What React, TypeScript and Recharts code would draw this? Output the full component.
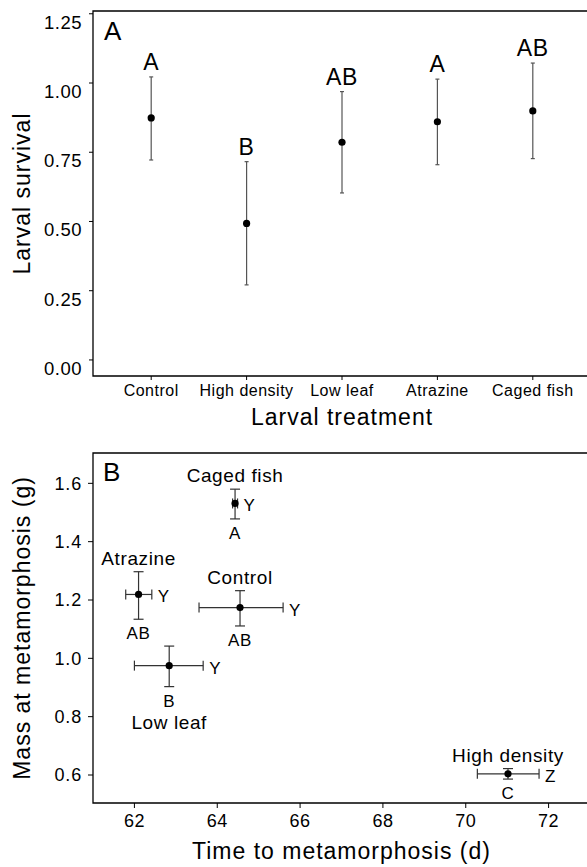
import { ScatterChart, Scatter, XAxis, YAxis, ErrorBar, ReferenceArea } from "recharts";

const FONT = '"Liberation Sans", Arial, Helvetica, sans-serif';

// Panel A: larval survival by treatment
const treatments = ["Control", "High density", "Low leaf", "Atrazine", "Caged fish"];
const survivalMean = [0.874, 0.493, 0.786, 0.86, 0.899];
const survivalLower = [0.722, 0.271, 0.603, 0.705, 0.727];
const survivalUpper = [1.022, 0.716, 0.969, 1.014, 1.072];
const survivalLetters = ["A", "B", "AB", "A", "AB"];
const survivalTicks = [0, 0.25, 0.5, 0.75, 1, 1.25];

// Panel B: time vs mass at metamorphosis
const groups = ["Control", "High density", "Low leaf", "Atrazine", "Caged fish"];
const timeMean = [64.55, 71.02, 62.84, 62.1, 64.43];
const timeLower = [63.56, 70.28, 62.0, 61.79, 64.37];
const timeUpper = [65.59, 71.77, 63.66, 62.42, 64.49];
const massMean = [1.174, 0.604, 0.975, 1.219, 1.531];
const massLower = [1.111, 0.586, 0.903, 1.134, 1.478];
const massUpper = [1.232, 0.622, 1.042, 1.297, 1.58];
const massLetters = ["AB", "C", "B", "AB", "A"];
const timeLetters = ["Y", "Z", "Y", "Y", "Y"];
const massTicks = [0.6, 0.8, 1.0, 1.2, 1.4, 1.6];
const timeTicks = [62, 64, 66, 68, 70, 72];

const survivalData = treatments.map((name, i) => ({
  name,
  x: i + 1,
  y: survivalMean[i],
  err: [survivalMean[i] - survivalLower[i], survivalUpper[i] - survivalMean[i]],
}));
const survivalLetterData = treatments.map((name, i) => ({
  name,
  x: i + 1,
  y: survivalUpper[i],
  label: survivalLetters[i],
}));

const metaData = groups.map((name, i) => ({
  name,
  x: timeMean[i],
  y: massMean[i],
  errX: [timeMean[i] - timeLower[i], timeUpper[i] - timeMean[i]],
  errY: [massMean[i] - massLower[i], massUpper[i] - massMean[i]],
}));
const nameAbove = groups
  .map((name, i) => ({ x: timeMean[i], y: massUpper[i], label: name }))
  .filter((d) => d.label !== "Low leaf");
const nameBelow = groups
  .map((name, i) => ({ x: timeMean[i], y: massLower[i], label: name }))
  .filter((d) => d.label === "Low leaf");
const massLetterData = groups.map((name, i) => ({ x: timeMean[i], y: massLower[i], label: massLetters[i] }));
const timeLetterData = groups.map((name, i) => ({ x: timeUpper[i], y: massMean[i], label: timeLetters[i] }));

const Dot = (p: any) => <circle cx={p.cx} cy={p.cy} r={3.6} fill="#000" />;

const textShape = (dx: number, dy: number, size: number, anchor: string) => (p: any) => (
  <text
    x={p.cx + dx}
    y={p.cy + dy}
    textAnchor={anchor}
    fontSize={size}
    fontFamily={FONT}
    letterSpacing={0.6}
    fill="#000"
  >
    {p.payload.label}
  </text>
);

const yTitle = (text: string) => (props: any) => {
  const vb = props.viewBox;
  const cy = vb.y + vb.height / 2;
  return (
    <text
      x={22}
      y={cy}
      dy="0.36em"
      transform={`rotate(-90, 22, ${cy})`}
      textAnchor="middle"
      fontSize={23}
      fontFamily={FONT}
      letterSpacing={1}
      fill="#000"
    >
      {text}
    </text>
  );
};

const SurvivalTick = (p: any) => (
  <text x={p.x} y={p.y + 15} textAnchor="end" fontSize={18.5} fontFamily={FONT} letterSpacing={0.5} fill="#000">
    {Number(p.payload.value).toFixed(2)}
  </text>
);

export default function App() {
  const axisText = { fill: "#000", fontFamily: FONT };
  return (
    <div style={{ position: "absolute", left: 0, top: 0, width: 587, height: 867, overflow: "hidden", background: "#fff" }}>
      <ScatterChart width={600} height={435} margin={{ top: 11, right: 9, left: 0, bottom: 0 }}>
        <XAxis
          type="number"
          dataKey="x"
          domain={[0.39, 5.61]}
          ticks={[1, 2, 3, 4, 5]}
          interval={0}
          allowDataOverflow
          tickFormatter={(v) => treatments[v - 1]}
          axisLine={false}
          tickLine={{ stroke: "#000" }}
          tickSize={4}
          tickMargin={5}
          height={59}
          tick={{ ...axisText, fontSize: 16, letterSpacing: 0.5 }}
          label={{ value: "Larval treatment", position: "insideBottom", offset: 10, fontSize: 23, letterSpacing: 1, ...axisText }}
        />
        <YAxis
          type="number"
          dataKey="y"
          domain={[-0.058, 1.26]}
          ticks={survivalTicks}
          allowDataOverflow
          axisLine={false}
          tickLine={{ stroke: "#000" }}
          tickSize={4}
          tickMargin={7}
          width={93}
          tick={SurvivalTick}
          label={{ content: yTitle("Larval survival") }}
        />
        <ReferenceArea
          x1={0.39}
          x2={5.61}
          y1={-0.058}
          y2={1.26}
          ifOverflow="visible"
          fill="none"
          stroke="#000"
          strokeWidth={1.3}
          label={{ value: "A", position: "insideTopLeft", offset: 11, fontSize: 26, ...axisText }}
        />
        <Scatter data={survivalData} shape={Dot} isAnimationActive={false}>
          <ErrorBar dataKey="err" direction="y" width={2} stroke="#555" strokeWidth={1.2} />
        </Scatter>
        <Scatter data={survivalLetterData} shape={textShape(0, -7, 23, "middle")} isAnimationActive={false} />
      </ScatterChart>

      <ScatterChart width={600} height={432} margin={{ top: 18, right: 10, left: 0, bottom: 0 }}>
        <XAxis
          type="number"
          dataKey="x"
          domain={[61, 73]}
          ticks={timeTicks}
          interval={0}
          allowDataOverflow
          axisLine={false}
          tickLine={{ stroke: "#000" }}
          tickSize={5}
          tickMargin={6}
          height={64}
          tick={{ ...axisText, fontSize: 18, letterSpacing: 0.5 }}
          label={{ value: "Time to metamorphosis (d)", position: "insideBottom", offset: 8, fontSize: 23, letterSpacing: 1, ...axisText }}
        />
        <YAxis
          type="number"
          dataKey="y"
          domain={[0.504, 1.704]}
          ticks={massTicks}
          allowDataOverflow
          axisLine={false}
          tickLine={{ stroke: "#000" }}
          tickSize={5}
          tickMargin={6}
          width={93}
          tickFormatter={(v) => Number(v).toFixed(1)}
          tick={{ ...axisText, fontSize: 18, letterSpacing: 0.8 }}
          label={{ content: yTitle("Mass at metamorphosis (g)") }}
        />
        <ReferenceArea
          x1={61}
          x2={73}
          y1={0.504}
          y2={1.704}
          ifOverflow="visible"
          fill="none"
          stroke="#000"
          strokeWidth={1.3}
          label={{ value: "B", position: "insideTopLeft", offset: 10, fontSize: 26, ...axisText }}
        />
        <Scatter data={metaData} shape={Dot} isAnimationActive={false}>
          <ErrorBar dataKey="errX" direction="x" width={5} stroke="#333" strokeWidth={1.2} />
          <ErrorBar dataKey="errY" direction="y" width={5} stroke="#333" strokeWidth={1.2} />
        </Scatter>
        <Scatter data={nameAbove} shape={textShape(0, -7, 19, "middle")} isAnimationActive={false} />
        <Scatter data={nameBelow} shape={textShape(0, 42, 19, "middle")} isAnimationActive={false} />
        <Scatter data={massLetterData} shape={textShape(0, 20, 17, "middle")} isAnimationActive={false} />
        <Scatter data={timeLetterData} shape={textShape(6, 8, 17, "start")} isAnimationActive={false} />
      </ScatterChart>
    </div>
  );
}
